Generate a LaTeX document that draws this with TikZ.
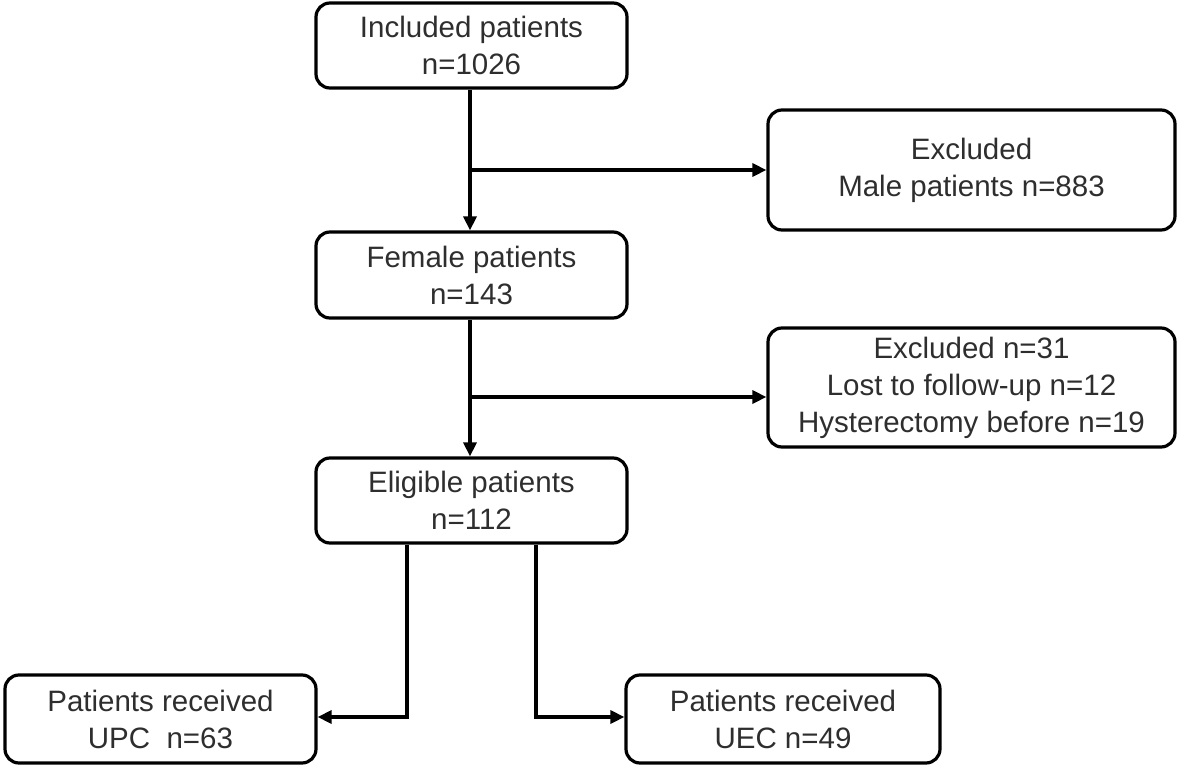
\documentclass[tikz,border=0pt]{standalone}
\usepackage{fontspec}
\setmainfont{Liberation Sans}
\usetikzlibrary{arrows.meta,calc}
\begin{document}
\begin{tikzpicture}[x=1pt,y=-1pt,
  box/.style={draw=black,line width=3.2pt,rounded corners=14pt,align=center,inner sep=0pt,
    font=\fontsize{29.5}{37}\selectfont,text=black!82},
  conn/.style={line width=3.2pt,draw=black},
  arr/.style={conn,-{Triangle[length=14pt,width=13pt]}}]
\useasboundingbox (0,0) rectangle (1181,768);
\node[box,minimum width=311pt,minimum height=85pt] (inc) at (471.5,45.5) {Included patients\\n=1026};
\node[box,minimum width=407pt,minimum height=120pt] (ex1) at (971.5,170) {Excluded\\Male patients n=883};
\node[box,minimum width=311pt,minimum height=86pt] (fem) at (471.5,275) {Female patients\\n=143};
\node[box,minimum width=407pt,minimum height=119pt] (ex2) at (971.5,387.5) {Excluded n=31\\Lost to follow-up n=12\\Hysterectomy before n=19};
\node[box,minimum width=311pt,minimum height=85pt] (eli) at (471.5,500.5) {Eligible patients\\n=112};
\node[box,minimum width=311pt,minimum height=88pt] (upc) at (160.5,719) {Patients received\\UPC\ \ n=63};
\node[box,minimum width=314pt,minimum height=88pt] (uec) at (783,719) {Patients received\\UEC n=49};
\coordinate (b1) at (470,170);
\coordinate (b2) at (470,397);
\coordinate (l1) at (407,717);
\coordinate (r1) at (536,717);
\draw[arr] (inc.south -| b1) -- (fem.north -| b1);
\draw[arr] (b1) -- (ex1.west |- b1);
\draw[arr] (fem.south -| b2) -- (eli.north -| b2);
\draw[arr] (b2) -- (ex2.west |- b2);
\draw[arr] (eli.south -| l1) -- (l1) -- (upc.east |- l1);
\draw[arr] (eli.south -| r1) -- (r1) -- (uec.west |- r1);
\end{tikzpicture}
\end{document}
